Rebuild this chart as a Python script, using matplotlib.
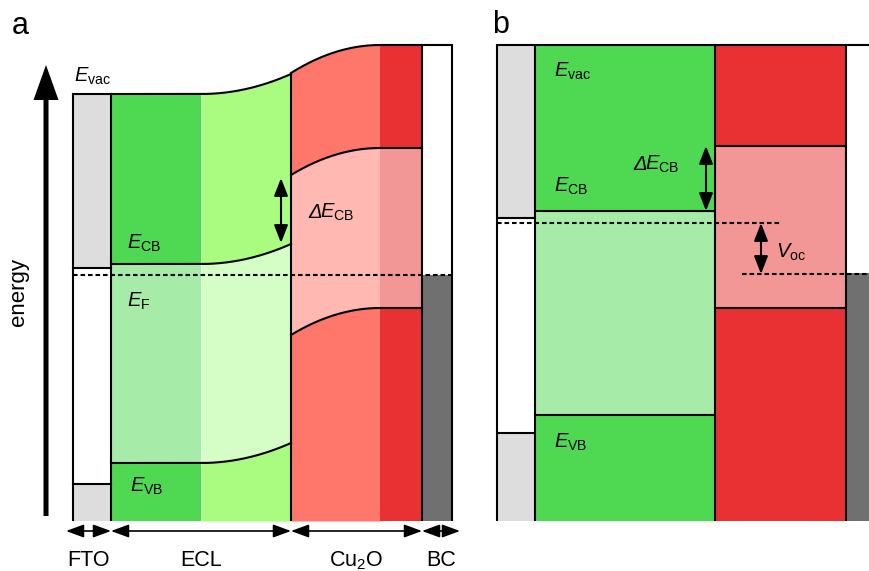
import numpy as np
import matplotlib.pyplot as plt

plt.rcParams['font.family'] = ['Liberation Sans', 'DejaVu Sans']
plt.rcParams['mathtext.fontset'] = 'custom'
plt.rcParams['mathtext.rm'] = 'Liberation Sans'
plt.rcParams['mathtext.it'] = 'Liberation Sans:italic'
plt.rcParams['mathtext.bf'] = 'Liberation Sans:bold'

# ---- panel a: layer edges (px) and band levels (px, measured downward)
a_edges = [73, 111, 201, 291, 380, 422, 452]
a_ecl_vac = [94, 74]     # flat level, level at ECL/Cu2O junction
a_ecl_cb = [264, 244]
a_ecl_vb = [463, 443]
a_cu_vac = [73, 45]      # level at junction, flat level
a_cu_cb = [175, 148]
a_cu_vb = [335, 308]
a_fto = [94, 268, 484]
a_bc = [45, 275]
a_fermi = 275
bottom = 521

# ---- panel b
b_edges = [497, 535, 715, 846, 869]
b_top = 45
b_fto = [218, 433]
b_ecl = [211, 415]
b_cu = [146, 308]
b_bc = 273
b_fermi_n = 223
b_fermi_p = 274

layer_labels = ['FTO', 'ECL', 'Cu$_\\mathrm{2}$O', 'BC']
layer_spans = [(66, 111), (111, 291), (291, 422), (422, 460)]

c_green = '#4fd953'
c_green_l = '#aafc80'
c_green_gap = '#a6eba8'
c_green_gap_l = '#d5fdc6'
c_red = '#ff766b'
c_red_d = '#e93033'
c_pink = '#ffb9b2'
c_pink_d = '#f29696'
c_gray = '#dddddd'
c_dgray = '#707070'
lw = 1.5

fig = plt.figure(figsize=(8.69, 5.71), dpi=100)
ax = fig.add_axes([0, 0, 1, 1])
ax.set_xlim(0, 869)
ax.set_ylim(571, 0)
ax.axis('off')


def ecl_curve(lv, x):
    t = np.clip((x - a_edges[2]) / (a_edges[3] - a_edges[2]), 0, 1)
    return lv[0] + (lv[1] - lv[0]) * t ** 2


def cu_curve(lv, x):
    t = np.clip((x - a_edges[3]) / (a_edges[4] - a_edges[3]), 0, 1)
    return lv[1] + (lv[0] - lv[1]) * (1 - t) ** 2


def delta_label(x, y, sub):
    # italic Delta followed by E with subscript
    ax.text(x, y, '\u0394', fontsize=tfs, style='italic', va='baseline')
    ax.text(x + 12, y, r'$E_\mathrm{%s}$' % sub, fontsize=tfs, va='baseline')


tfs = 14.5

# ---------------- panel a
# FTO
ax.fill_between([a_edges[0], a_edges[1]], a_fto[0], a_fto[1], color=c_gray, lw=0)
ax.fill_between([a_edges[0], a_edges[1]], a_fto[2], bottom, color=c_gray, lw=0)

# ECL
for x0, x1, cs in [(a_edges[1], a_edges[2], (c_green, c_green_gap)),
                   (a_edges[2], a_edges[3], (c_green_l, c_green_gap_l))]:
    x = np.linspace(x0, x1, 100)
    ax.fill_between(x, ecl_curve(a_ecl_vac, x), ecl_curve(a_ecl_cb, x), color=cs[0], lw=0)
    ax.fill_between(x, ecl_curve(a_ecl_cb, x), ecl_curve(a_ecl_vb, x), color=cs[1], lw=0)
    ax.fill_between(x, ecl_curve(a_ecl_vb, x), bottom, color=cs[0], lw=0)

# Cu2O
for x0, x1, cs in [(a_edges[3], a_edges[4], (c_red, c_pink)),
                   (a_edges[4], a_edges[5], (c_red_d, c_pink_d))]:
    x = np.linspace(x0, x1, 100)
    ax.fill_between(x, cu_curve(a_cu_vac, x), cu_curve(a_cu_cb, x), color=cs[0], lw=0)
    ax.fill_between(x, cu_curve(a_cu_cb, x), cu_curve(a_cu_vb, x), color=cs[1], lw=0)
    ax.fill_between(x, cu_curve(a_cu_vb, x), bottom, color=cs[0], lw=0)

# back contact
ax.fill_between([a_edges[5], a_edges[6]], a_bc[1], bottom, color=c_dgray, lw=0)

# band lines
xe = np.linspace(a_edges[1], a_edges[3], 200)
xc = np.linspace(a_edges[3], a_edges[5], 200)
for lv in [a_ecl_vac, a_ecl_cb, a_ecl_vb]:
    ax.plot(xe, ecl_curve(lv, xe), color='k', lw=lw)
for lv in [a_cu_vac, a_cu_cb, a_cu_vb]:
    ax.plot(xc, cu_curve(lv, xc), color='k', lw=lw)
for y in a_fto:
    ax.plot([a_edges[0], a_edges[1]], [y, y], color='k', lw=lw)
ax.plot([a_edges[5], a_edges[6]], [a_bc[0], a_bc[0]], color='k', lw=lw)

# vertical boundaries
ax.vlines([a_edges[0], a_edges[1]], a_fto[0], bottom, color='k', lw=lw)
ax.vlines(a_edges[3], a_cu_vac[0], bottom, color='k', lw=lw)
ax.vlines([a_edges[5], a_edges[6]], a_bc[0], bottom, color='k', lw=lw)

# Fermi level
ax.plot([a_edges[0], a_edges[6]], [a_fermi, a_fermi], color='k', lw=lw,
        dashes=(2.2, 1.4))

# energy axis arrow
ax.arrow(46, 516, 0, -451, width=5, head_width=25, head_length=35,
         length_includes_head=True, fc='k', ec='none')
ax.text(19, 292, 'energy', rotation=90, ha='center', va='center', fontsize=16)

# Delta E_CB arrow
arrow_kw = dict(arrowstyle='<|-|>,head_length=0.9,head_width=0.35', lw=1.5,
                color='k', mutation_scale=12, shrinkA=0, shrinkB=0)
ax.annotate('', xy=(281, 178), xytext=(281, 243), arrowprops=arrow_kw)

# layer arrows and labels
for lab, (x0, x1) in zip(layer_labels, layer_spans):
    ax.annotate('', xy=(x0, 531), xytext=(x1, 531),
                arrowprops=dict(arrowstyle='<|-|>,head_length=0.9,head_width=0.33',
                                lw=1.2, color='k', mutation_scale=12,
                                shrinkA=0, shrinkB=0))
    ax.text((x0 + x1) / 2, 566, lab, ha='center', va='baseline', fontsize=15.5)

ax.text(74, 82, r'$E_\mathrm{vac}$', fontsize=tfs, va='baseline')
ax.text(127, 249, r'$E_\mathrm{CB}$', fontsize=tfs, va='baseline')
delta_label(308, 218, 'CB')
ax.text(127, 307, r'$E_\mathrm{F}$', fontsize=tfs, va='baseline')
ax.text(130, 492, r'$E_\mathrm{VB}$', fontsize=tfs, va='baseline')
ax.text(12, 34, 'a', fontsize=22, va='baseline')

# ---------------- panel b
bx = b_edges
ax.fill_between([bx[0], bx[1]], b_top, b_fto[0], color=c_gray, lw=0)
ax.fill_between([bx[0], bx[1]], b_fto[1], bottom, color=c_gray, lw=0)
ax.fill_between([bx[1], bx[2]], b_top, b_ecl[0], color=c_green, lw=0)
ax.fill_between([bx[1], bx[2]], b_ecl[0], b_ecl[1], color=c_green_gap, lw=0)
ax.fill_between([bx[1], bx[2]], b_ecl[1], bottom, color=c_green, lw=0)
ax.fill_between([bx[2], bx[3]], b_top, b_cu[0], color=c_red_d, lw=0)
ax.fill_between([bx[2], bx[3]], b_cu[0], b_cu[1], color=c_pink_d, lw=0)
ax.fill_between([bx[2], bx[3]], b_cu[1], bottom, color=c_red_d, lw=0)
ax.fill_between([bx[3], bx[4]], b_bc, bottom, color=c_dgray, lw=0)

ax.plot([bx[0], bx[4]], [b_top, b_top], color='k', lw=lw)
ax.hlines(b_fto, bx[0], bx[1], color='k', lw=lw)
ax.hlines(b_ecl, bx[1], bx[2], color='k', lw=lw)
ax.hlines(b_cu, bx[2], bx[3], color='k', lw=lw)
ax.vlines(bx[:4], b_top, bottom, color='k', lw=lw)

ax.plot([bx[0], 780], [b_fermi_n, b_fermi_n], color='k', lw=lw, dashes=(2.2, 1.4))
ax.plot([742, bx[4]], [b_fermi_p, b_fermi_p], color='k', lw=lw, dashes=(2.2, 1.4))

ax.annotate('', xy=(706, b_cu[0]), xytext=(706, b_ecl[0]), arrowprops=arrow_kw)
ax.annotate('', xy=(761, b_fermi_n), xytext=(761, b_fermi_p), arrowprops=arrow_kw)

ax.text(554, 77, r'$E_\mathrm{vac}$', fontsize=tfs, va='baseline')
ax.text(554, 192, r'$E_\mathrm{CB}$', fontsize=tfs, va='baseline')
delta_label(633, 170, 'CB')
ax.text(776, 258, r'$V_\mathrm{oc}$', fontsize=tfs, va='baseline')
ax.text(554, 448, r'$E_\mathrm{VB}$', fontsize=tfs, va='baseline')
ax.text(492, 33, 'b', fontsize=22, va='baseline')

fig.savefig('out.png', dpi=100)
